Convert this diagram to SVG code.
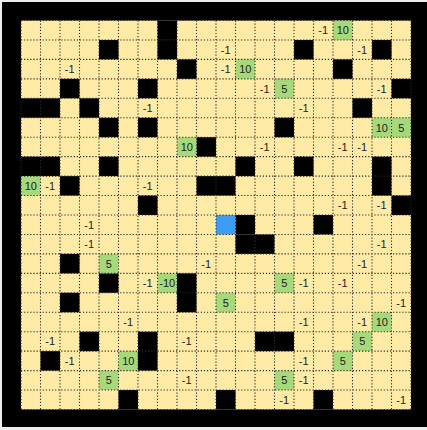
<svg xmlns="http://www.w3.org/2000/svg" width="427" height="430" viewBox="0 0 427 430">
<style>
.w{fill:#000}
.g{fill:#a6d97a}
.b{fill:#3d9df3}
.grid{fill:none;stroke:#2a2a2a;stroke-width:1.1;stroke-dasharray:1.2 1.9}
text{font-family:"Liberation Sans",Arial,sans-serif;font-size:11px;fill:#222;text-anchor:middle}
</style>
<rect x="0" y="0" width="427" height="430" fill="#eeeeee"/>
<rect x="2" y="2" width="425" height="425" fill="#000"/>
<g id="board">
<rect x="21" y="20.5" width="390" height="389" fill="#ffeaa6"/>
<g id="walls">
<rect class="w" x="157.5" y="20.5" width="19.5" height="19.45"/>
<rect class="w" x="99" y="39.95" width="19.5" height="19.45"/>
<rect class="w" x="157.5" y="39.95" width="19.5" height="19.45"/>
<rect class="w" x="294" y="39.95" width="19.5" height="19.45"/>
<rect class="w" x="372" y="39.95" width="19.5" height="19.45"/>
<rect class="w" x="177" y="59.4" width="19.5" height="19.45"/>
<rect class="w" x="333" y="59.4" width="19.5" height="19.45"/>
<rect class="w" x="60" y="78.85" width="19.5" height="19.45"/>
<rect class="w" x="138" y="78.85" width="19.5" height="19.45"/>
<rect class="w" x="391.5" y="78.85" width="19.5" height="19.45"/>
<rect class="w" x="21" y="98.3" width="39" height="19.45"/>
<rect class="w" x="79.5" y="98.3" width="19.5" height="19.45"/>
<rect class="w" x="352.5" y="98.3" width="19.5" height="19.45"/>
<rect class="w" x="99" y="117.75" width="19.5" height="19.45"/>
<rect class="w" x="138" y="117.75" width="19.5" height="19.45"/>
<rect class="w" x="274.5" y="117.75" width="19.5" height="19.45"/>
<rect class="w" x="196.5" y="137.2" width="19.5" height="19.45"/>
<rect class="w" x="21" y="156.65" width="39" height="19.45"/>
<rect class="w" x="99" y="156.65" width="19.5" height="19.45"/>
<rect class="w" x="235.5" y="156.65" width="19.5" height="19.45"/>
<rect class="w" x="294" y="156.65" width="19.5" height="19.45"/>
<rect class="w" x="372" y="156.65" width="19.5" height="38.9"/>
<rect class="w" x="60" y="176.1" width="19.5" height="19.45"/>
<rect class="w" x="196.5" y="176.1" width="39" height="19.45"/>
<rect class="w" x="138" y="195.55" width="19.5" height="19.45"/>
<rect class="w" x="391.5" y="195.55" width="19.5" height="19.45"/>
<rect class="w" x="235.5" y="215" width="19.5" height="19.45"/>
<rect class="w" x="313.5" y="215" width="19.5" height="19.45"/>
<rect class="w" x="235.5" y="234.45" width="39" height="19.45"/>
<rect class="w" x="60" y="253.9" width="19.5" height="19.45"/>
<rect class="w" x="99" y="273.35" width="19.5" height="19.45"/>
<rect class="w" x="177" y="273.35" width="19.5" height="38.9"/>
<rect class="w" x="60" y="292.8" width="19.5" height="19.45"/>
<rect class="w" x="79.5" y="331.7" width="19.5" height="19.45"/>
<rect class="w" x="138" y="331.7" width="19.5" height="38.9"/>
<rect class="w" x="255" y="331.7" width="39" height="19.45"/>
<rect class="w" x="40.5" y="351.15" width="19.5" height="19.45"/>
<rect class="w" x="118.5" y="390.05" width="19.5" height="19.45"/>
<rect class="w" x="216" y="390.05" width="19.5" height="19.45"/>
<rect class="w" x="313.5" y="390.05" width="19.5" height="19.45"/>
</g>
<g id="rewards">
<rect class="g" x="333" y="20.5" width="19.5" height="19.45"/>
<rect class="g" x="235.5" y="59.4" width="19.5" height="19.45"/>
<rect class="g" x="274.5" y="78.85" width="19.5" height="19.45"/>
<rect class="g" x="372" y="117.75" width="19.5" height="19.45"/>
<rect class="g" x="391.5" y="117.75" width="19.5" height="19.45"/>
<rect class="g" x="177" y="137.2" width="19.5" height="19.45"/>
<rect class="g" x="21" y="176.1" width="19.5" height="19.45"/>
<rect class="g" x="99" y="253.9" width="19.5" height="19.45"/>
<rect class="g" x="157.5" y="273.35" width="19.5" height="19.45"/>
<rect class="g" x="274.5" y="273.35" width="19.5" height="19.45"/>
<rect class="g" x="216" y="292.8" width="19.5" height="19.45"/>
<rect class="g" x="372" y="312.25" width="19.5" height="19.45"/>
<rect class="g" x="352.5" y="331.7" width="19.5" height="19.45"/>
<rect class="g" x="118.5" y="351.15" width="19.5" height="19.45"/>
<rect class="g" x="333" y="351.15" width="19.5" height="19.45"/>
<rect class="g" x="99" y="370.6" width="19.5" height="19.45"/>
<rect class="g" x="274.5" y="370.6" width="19.5" height="19.45"/>
</g>
<rect id="agent" class="b" x="216" y="215" width="19.5" height="19.45"/>
<path class="grid" d="M21 20.5V409.5M40.5 20.5V409.5M60 20.5V409.5M79.5 20.5V409.5M99 20.5V409.5M118.5 20.5V409.5M138 20.5V409.5M157.5 20.5V409.5M177 20.5V409.5M196.5 20.5V409.5M216 20.5V409.5M235.5 20.5V409.5M255 20.5V409.5M274.5 20.5V409.5M294 20.5V409.5M313.5 20.5V409.5M333 20.5V409.5M352.5 20.5V409.5M372 20.5V409.5M391.5 20.5V409.5M411 20.5V409.5M21 20.5H411M21 39.95H411M21 59.4H411M21 78.85H411M21 98.3H411M21 117.75H411M21 137.2H411M21 156.65H411M21 176.1H411M21 195.55H411M21 215H411M21 234.45H411M21 253.9H411M21 273.35H411M21 292.8H411M21 312.25H411M21 331.7H411M21 351.15H411M21 370.6H411M21 390.05H411M21 409.5H411"/>
<g id="labels">
<text x="342.75" y="34.2">10</text>
<text x="245.25" y="73.1">10</text>
<text x="284.25" y="92.6">5</text>
<text x="381.75" y="131.5">10</text>
<text x="401.25" y="131.5">5</text>
<text x="186.75" y="150.9">10</text>
<text x="30.75" y="189.8">10</text>
<text x="108.75" y="267.6">5</text>
<text x="167.25" y="287.1">-10</text>
<text x="284.25" y="287.1">5</text>
<text x="225.75" y="306.5">5</text>
<text x="381.75" y="326">10</text>
<text x="362.25" y="345.4">5</text>
<text x="128.25" y="364.9">10</text>
<text x="342.75" y="364.9">5</text>
<text x="108.75" y="384.3">5</text>
<text x="284.25" y="384.3">5</text>
<text x="323.25" y="34.2">-1</text>
<text x="225.75" y="53.7">-1</text>
<text x="362.25" y="53.7">-1</text>
<text x="69.75" y="73.1">-1</text>
<text x="225.75" y="73.1">-1</text>
<text x="264.75" y="92.6">-1</text>
<text x="381.75" y="92.6">-1</text>
<text x="147.75" y="112">-1</text>
<text x="303.75" y="112">-1</text>
<text x="264.75" y="150.9">-1</text>
<text x="342.75" y="150.9">-1</text>
<text x="362.25" y="150.9">-1</text>
<text x="50.25" y="189.8">-1</text>
<text x="147.75" y="189.8">-1</text>
<text x="342.75" y="209.3">-1</text>
<text x="381.75" y="209.3">-1</text>
<text x="89.25" y="228.7">-1</text>
<text x="89.25" y="248.2">-1</text>
<text x="381.75" y="248.2">-1</text>
<text x="206.25" y="267.6">-1</text>
<text x="362.25" y="267.6">-1</text>
<text x="147.75" y="287.1">-1</text>
<text x="303.75" y="287.1">-1</text>
<text x="342.75" y="287.1">-1</text>
<text x="401.25" y="306.5">-1</text>
<text x="128.25" y="326">-1</text>
<text x="303.75" y="326">-1</text>
<text x="362.25" y="326">-1</text>
<text x="50.25" y="345.4">-1</text>
<text x="186.75" y="345.4">-1</text>
<text x="69.75" y="364.9">-1</text>
<text x="303.75" y="364.9">-1</text>
<text x="186.75" y="384.3">-1</text>
<text x="303.75" y="384.3">-1</text>
<text x="284.25" y="403.8">-1</text>
<text x="401.25" y="403.8">-1</text>
</g>
</g>
</svg>
